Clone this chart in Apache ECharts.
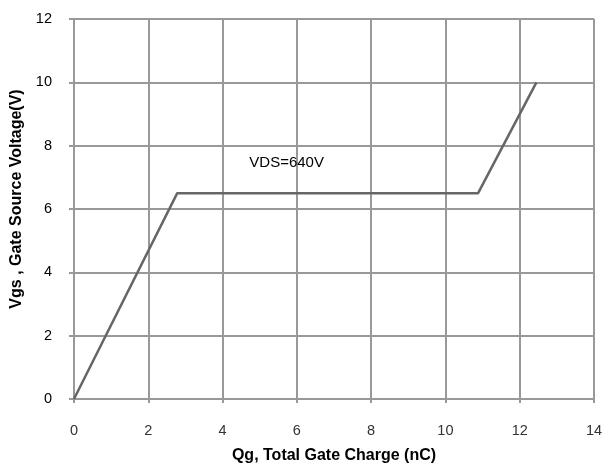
<!DOCTYPE html>
<html><head><meta charset="utf-8">
<script src="https://cdn.jsdelivr.net/npm/echarts@6/dist/echarts.min.js"></script>
<style>html,body{margin:0;padding:0;background:#fff}#c{width:606px;height:470px}</style>
</head><body><div id="c"></div>
<script>
const qg = [0, 2.78, 10.88, 12.45];
const vgs = [0, 6.5, 6.5, 10];
const annotationText = 'VDS=640V';
const annotationAt = [4.72, 7.45];
const xTitle = 'Qg, Total Gate Charge (nC)';
const yTitle = 'Vgs , Gate Source Voltage(V)';

const chart = echarts.init(document.getElementById('c'));
const font = 'Liberation Sans, Arial, sans-serif';
chart.setOption({
  animation: false,
  grid: {left: 74, right: 12, top: 19, bottom: 71, outerBoundsMode: 'none', containLabel: false},
  xAxis: {
    type: 'value', min: 0, max: 14, interval: 2,
    name: xTitle, nameLocation: 'middle', nameGap: 49,
    nameTextStyle: {fontFamily: font, fontSize: 16, fontWeight: 'bold', color: '#000'},
    axisLine: {show: true, lineStyle: {color: '#999', width: 2}},
    axisTick: {show: true, length: 4, lineStyle: {color: '#999', width: 2}},
    axisLabel: {margin: 24, fontFamily: font, fontSize: 14.5, color: '#333'},
    splitLine: {show: true, lineStyle: {color: '#999', width: 2}}
  },
  yAxis: {
    type: 'value', min: 0, max: 12, interval: 2,
    name: yTitle, nameLocation: 'middle', nameGap: 48, nameRotate: 90,
    nameTextStyle: {fontFamily: font, fontSize: 16, fontWeight: 'bold', color: '#000', padding: [0, 0, 0, 20]},
    axisLine: {show: true, lineStyle: {color: '#999', width: 2}},
    axisTick: {show: true, length: 5, lineStyle: {color: '#999', width: 2}},
    axisLabel: {margin: 22, fontFamily: font, fontSize: 14.5, color: '#000'},
    splitLine: {show: true, lineStyle: {color: '#999', width: 2}}
  },
  series: [{
    type: 'line',
    data: qg.map((x, i) => [x, vgs[i]]),
    symbol: 'none',
    lineStyle: {color: '#666', width: 2.5},
    markPoint: {
      symbol: 'circle', symbolSize: 0,
      data: [{coord: annotationAt, value: annotationText}],
      label: {show: true, position: 'right', distance: 0, formatter: annotationText,
        fontFamily: font, fontSize: 15, color: '#000'}
    }
  }]
});
</script></body></html>
